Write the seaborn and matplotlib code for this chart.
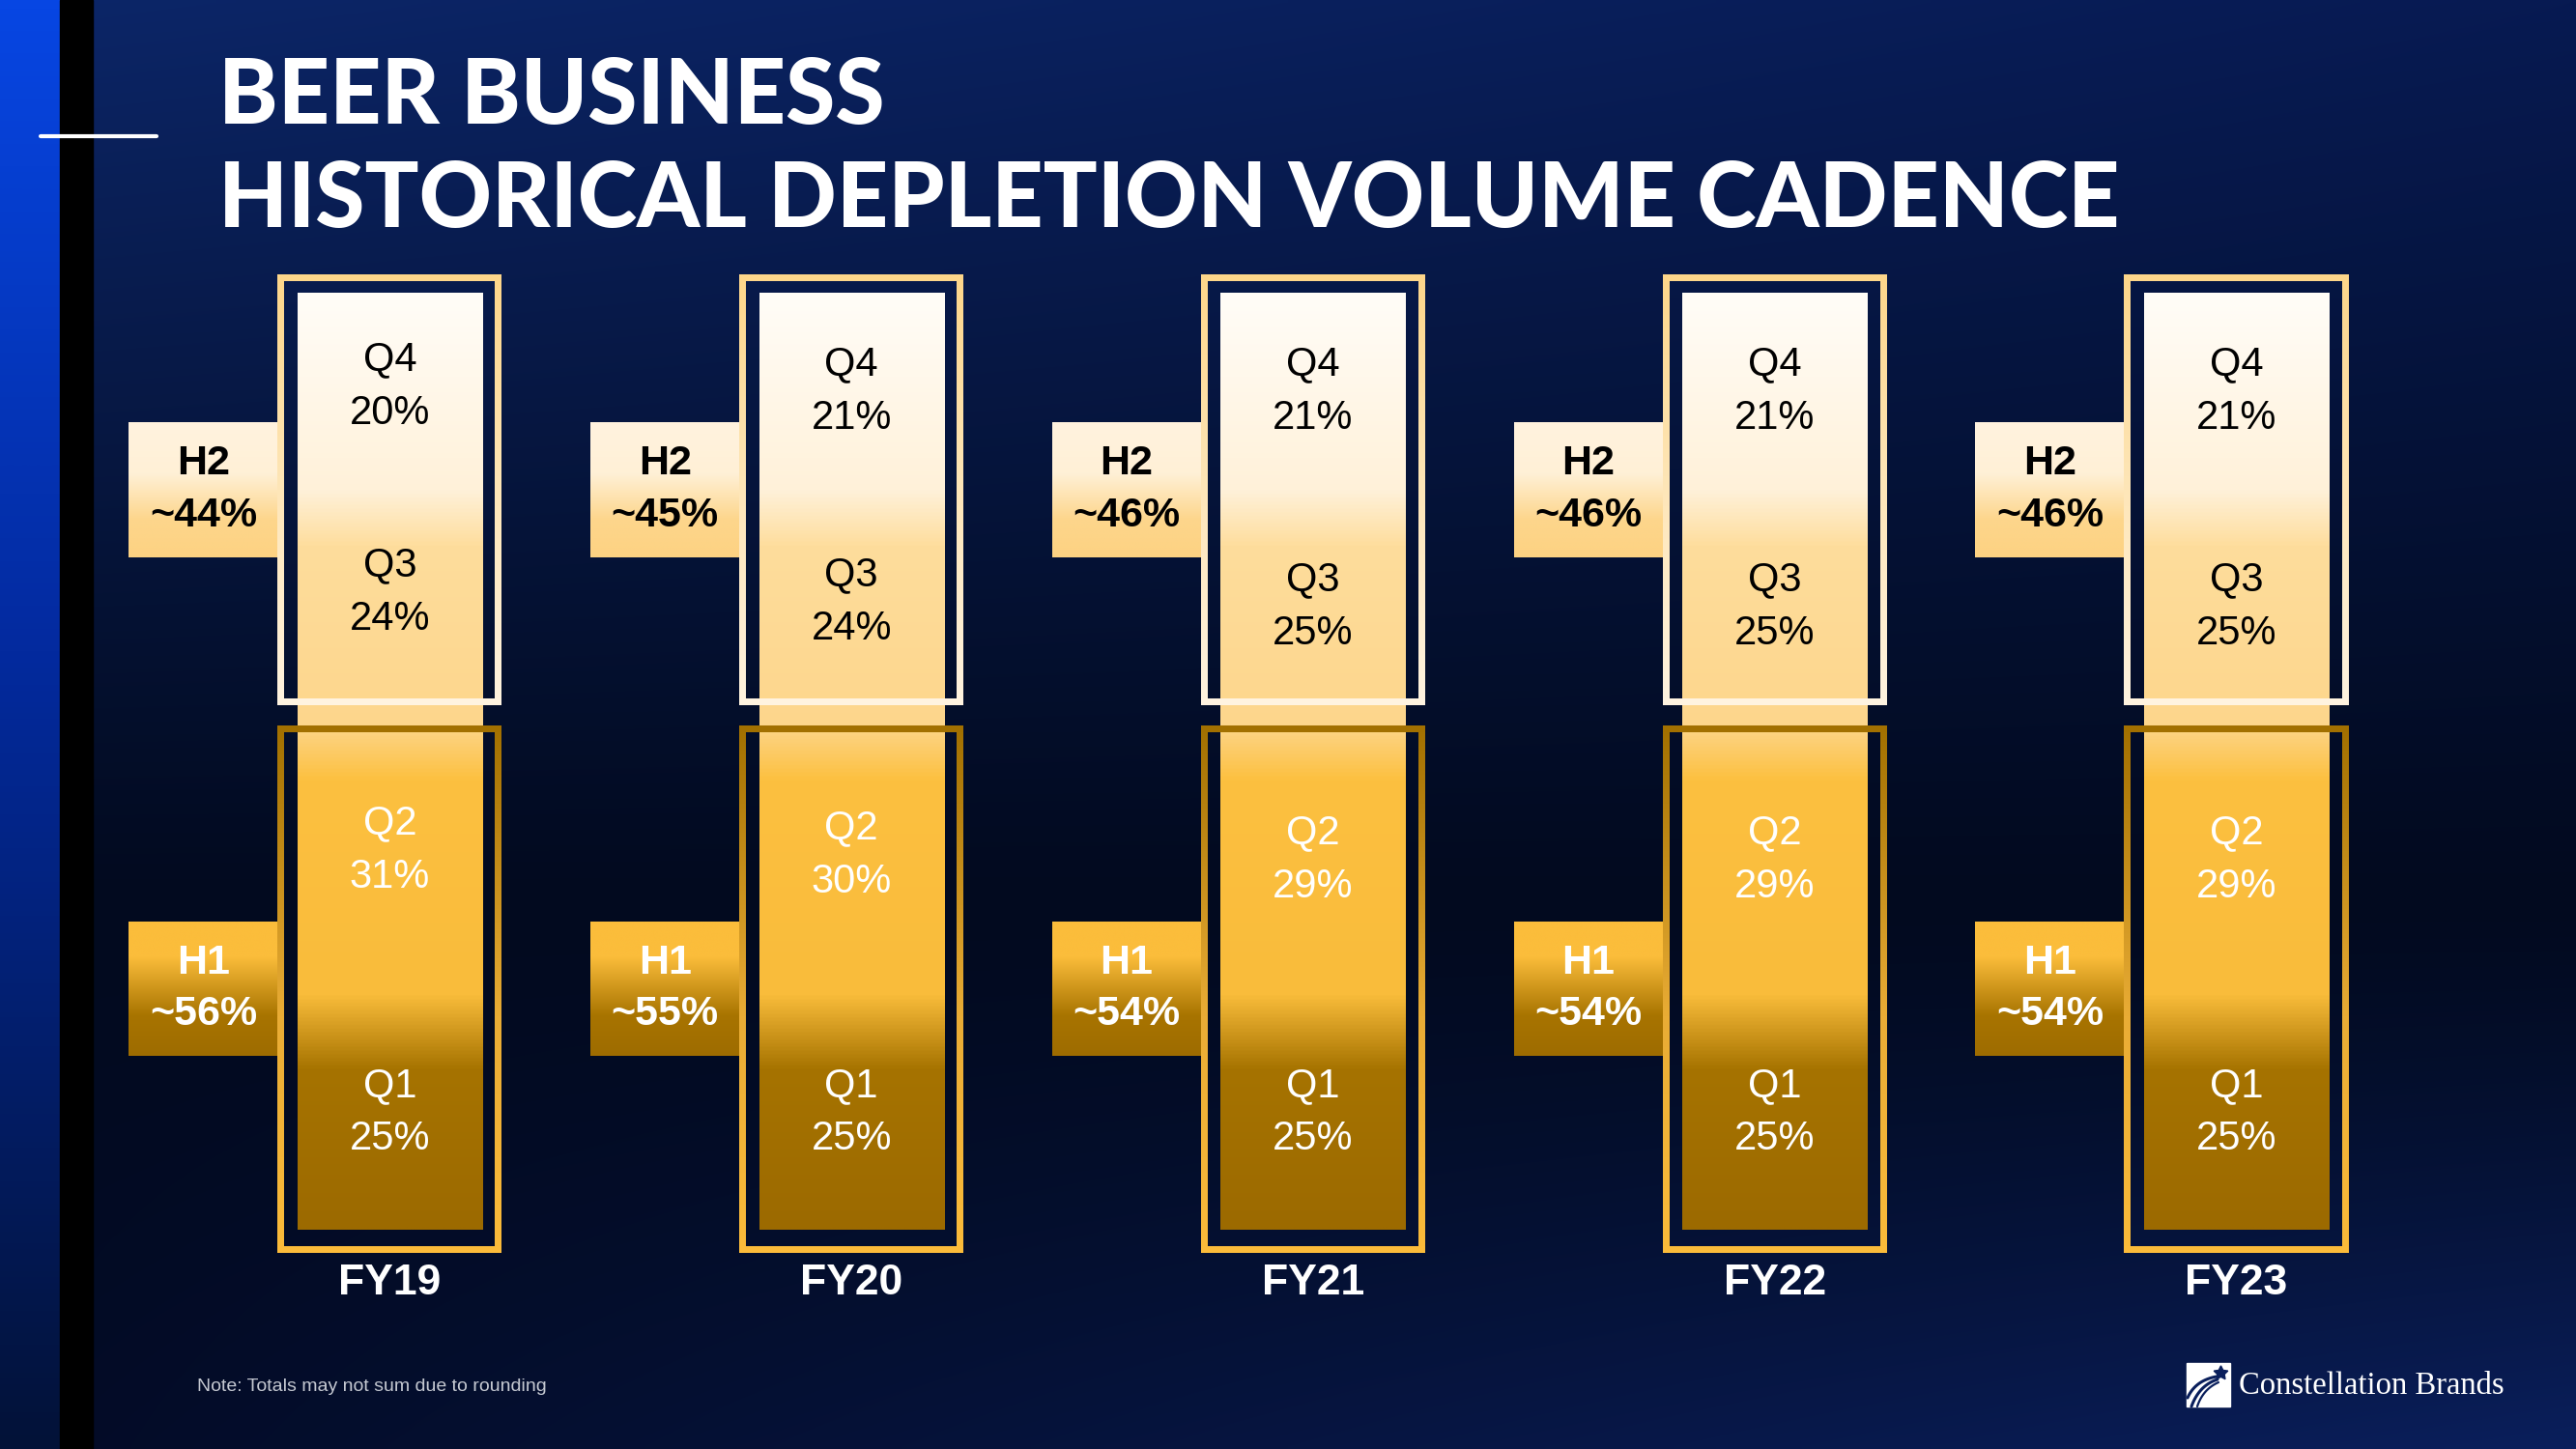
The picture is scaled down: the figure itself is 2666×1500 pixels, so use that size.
import numpy as np
import pandas as pd
import matplotlib
matplotlib.use("Agg")
import matplotlib.pyplot as plt
from matplotlib.colors import LinearSegmentedColormap, to_rgb
from matplotlib.patches import Rectangle
import seaborn as sns

# data
years = ["FY19", "FY20", "FY21", "FY22", "FY23"]
quarters = ["Q1", "Q2", "Q3", "Q4"]
q1 = [25, 25, 25, 25, 25]
q2 = [31, 30, 29, 29, 29]
q3 = [24, 24, 25, 25, 25]
q4 = [20, 21, 21, 21, 21]
h1_share = ["~56%", "~55%", "~54%", "~54%", "~54%"]
h2_share = ["~44%", "~45%", "~46%", "~46%", "~46%"]

sns.set_theme(style="white")
narrow = ["Liberation Sans Narrow", "Liberation Sans", "DejaVu Sans"]
plt.rcParams["font.family"] = narrow

W, H = 2666, 1500
fig = plt.figure(figsize=(W / 100, H / 100), dpi=100)

# ---- background (pixel coords) ----
bg = fig.add_axes([0, 0, 1, 1])
bg.set_xlim(0, W)
bg.set_ylim(H, 0)
bg.axis("off")
yy, xx = np.mgrid[0:1:300j, 0:1:534j]
top = np.array(to_rgb("#0c2668"))[None, None, :] * (1 - xx[..., None]) + np.array(to_rgb("#071a52"))[None, None, :] * xx[..., None]
mid = np.array(to_rgb("#020a1f"))[None, None, :]
bot = np.array(to_rgb("#030b26"))[None, None, :] * (1 - xx[..., None]) + np.array(to_rgb("#0a1f5c"))[None, None, :] * xx[..., None]
w_top = np.clip(1 - yy / 0.62, 0, 1)[..., None] ** 1.1
w_bot = np.clip((yy - 0.62) / 0.38, 0, 1)[..., None] ** 1.3
img = mid + w_top * (top - mid) + w_bot * (bot - mid)
bg.imshow(img, extent=[0, W, H, 0], aspect="auto", interpolation="bilinear", zorder=0)

strip_cmap = LinearSegmentedColormap.from_list(
    "strip", [(0, "#0746e3"), (0.45, "#032a9e"), (1, "#021238")])
bg.imshow(np.linspace(0, 1, 256).reshape(-1, 1), cmap=strip_cmap, extent=[0, 62, H, 0],
          aspect="auto", interpolation="bilinear", zorder=1)
bg.add_patch(Rectangle((62, 0), 34, H, color="black", zorder=1))
bg.plot([42, 162], [141, 141], color="white", lw=3, zorder=2)

# title
title_font = ["Lato", "DejaVu Sans"]
bg.text(226, 128, "BEER BUSINESS", fontsize=67, fontweight="black", family=title_font,
        color="white", va="baseline", ha="left", zorder=3)
bg.text(226, 235, "HISTORICAL DEPLETION VOLUME CADENCE", fontsize=67, fontweight="black",
        family=title_font, color="white", va="baseline", ha="left", zorder=3)

# footer
bg.text(204, 1440, "Note: Totals may not sum due to rounding", fontsize=14, color="#c5c9d2",
        va="baseline", ha="left", zorder=3)
bg.add_patch(Rectangle((2263, 1411), 45, 45, color="white", zorder=3))
navy = "#0a1f5c"
tt = np.linspace(0, 1, 40)
for p0, p1, p2, lw in [((2264, 1447), (2272, 1429), (2294, 1425), 2.2),
                       ((2268, 1456), (2276, 1434), (2295, 1428), 2.2),
                       ((2274, 1456), (2280, 1438), (2296, 1431), 1.6)]:
    bx = (1 - tt) ** 2 * p0[0] + 2 * (1 - tt) * tt * p1[0] + tt ** 2 * p2[0]
    by = (1 - tt) ** 2 * p0[1] + 2 * (1 - tt) * tt * p1[1] + tt ** 2 * p2[1]
    bg.plot(bx, by, color=navy, lw=lw, solid_capstyle="round", zorder=4)
bg.plot(2298, 1421, marker=(5, 1, 0), ms=11, color=navy, zorder=4)
bg.text(2317, 1443, "Constellation Brands", family=["Liberation Serif", "DejaVu Serif"],
        fontsize=23.5, color="white", va="baseline", ha="left", zorder=3)

# ---- bars (data coords) ----
px_per_cat = 477.75
px_per_pct = 9.7
x_lo, x_hi = -0.8, 4.6
y_lo, y_hi = -10, 105
left_px = 403.5 + x_lo * px_per_cat
right_px = 403.5 + x_hi * px_per_cat
bot_px = 1273 - y_lo * px_per_pct
top_px = 1273 - y_hi * px_per_pct
ax = fig.add_axes([left_px / W, 1 - bot_px / H, (right_px - left_px) / W, (bot_px - top_px) / H])
ax.set_zorder(2)
ax.patch.set_alpha(0)

df = pd.DataFrame({"year": years, "Q1": q1, "Q2": q2, "Q3": q3, "Q4": q4})
cum = df[quarters].cumsum(axis=1)
cum["year"] = df["year"]
bottoms = cum[quarters] - df[quarters]

seg_colors = {"Q4": "#fff3dc", "Q3": "#fedb95", "Q2": "#fcc03e", "Q1": "#a06e00"}
for q in reversed(quarters):
    sns.barplot(data=cum, x="year", y=q, order=years, color=seg_colors[q], width=0.4,
                saturation=1, errorbar=None, linewidth=0, edgecolor="none", ax=ax, zorder=1)
top_bars = ax.patches[:len(years)]

bar_cmap = LinearSegmentedColormap.from_list("bar", [
    (0, "#9c6a00"), (0.17, "#a67300"), (0.25, "#f9bc3b"), (0.48, "#fcc040"),
    (0.54, "#fdd68c"), (0.73, "#fedd9c"), (0.79, "#fff1d9"), (1, "#fffdf8")])
grad = np.linspace(0, 1, 512).reshape(-1, 1)
for p in top_bars:
    x0, w, h = p.get_x(), p.get_width(), p.get_height()
    im = ax.imshow(grad, cmap=bar_cmap, vmin=0, vmax=1, extent=[x0, x0 + w, 0, h],
                   origin="lower", aspect="auto", interpolation="bilinear", zorder=2)
    im.set_clip_path(p)

# frames around halves
frame_outer = 116 / px_per_cat
thick_x = 7 / px_per_cat
thick_y = 7 / px_per_pct
h2_frame = LinearSegmentedColormap.from_list("h2f", ["#fdd68a", "#fee6b8", "#fff3e0"])
h1_frame = LinearSegmentedColormap.from_list("h1f", [(0, "#a27000"), (0.55, "#e9ac35"), (1, "#fbbb3a")])


def draw_frame(xc, y_top, y_bot, cmap):
    # sides carry the vertical gradient, top and bottom are flat
    for xs in (xc - frame_outer, xc + frame_outer - thick_x):
        ax.imshow(grad, cmap=cmap, vmin=0, vmax=1, extent=[xs, xs + thick_x, y_bot, y_top],
                  origin="upper", aspect="auto", interpolation="bilinear", zorder=3)
    ax.add_patch(Rectangle((xc - frame_outer, y_top - thick_y), 2 * frame_outer, thick_y,
                           color=cmap(0.0), lw=0, zorder=3))
    ax.add_patch(Rectangle((xc - frame_outer, y_bot), 2 * frame_outer, thick_y,
                           color=cmap(1.0), lw=0, zorder=3))


h2_box_cmap = LinearSegmentedColormap.from_list("h2b", [(0, "#fff3df"), (0.38, "#fff0d6"), (0.72, "#fdd68c"), (1, "#fdd282")])
h1_box_cmap = LinearSegmentedColormap.from_list("h1b", [(0, "#fbbd3b"), (0.26, "#fbbd3b"), (0.7, "#a87400"), (1, "#9e6c00")])
box_w = 154 / px_per_cat
h2_box = ((1273 - 577) / px_per_pct, (1273 - 437) / px_per_pct)
h1_box = ((1273 - 1093) / px_per_pct, (1273 - 954) / px_per_pct)

for i, yr in enumerate(years):
    draw_frame(i, (1273 - 284) / px_per_pct, (1273 - 730) / px_per_pct, h2_frame)
    draw_frame(i, (1273 - 751) / px_per_pct, (1273 - 1297) / px_per_pct, h1_frame)

    xr = i - frame_outer
    for (yb, yt), cmap, lab, half, tcol in [(h2_box, h2_box_cmap, h2_share[i], "H2", "black"),
                                            (h1_box, h1_box_cmap, h1_share[i], "H1", "white")]:
        ax.imshow(grad, cmap=cmap, vmin=0, vmax=1, extent=[xr - box_w, xr, yb, yt],
                  origin="upper", aspect="auto", interpolation="bilinear", zorder=2)
        ax.text(xr - box_w / 2, (yb + yt) / 2, f"{half}\n{lab}", ha="center", va="center",
                color=tcol, fontsize=31, fontweight="bold", linespacing=1.45, zorder=5)

    for q in quarters:
        val = df.loc[i, q]
        yc = bottoms.loc[i, q] + val / 2
        col = "black" if q in ("Q3", "Q4") else "white"
        ax.text(i, yc, f"{q}\n{val}%", ha="center", va="center", color=col, fontsize=30,
                linespacing=1.5, zorder=5)

    ax.text(i, (1273 - 1340) / px_per_pct, yr, ha="center", va="baseline", color="white",
            fontsize=32, fontweight="bold", zorder=5)

ax.set_xlim(x_lo, x_hi)
ax.set_ylim(y_lo, y_hi)
ax.axis("off")

fig.savefig("out.png", dpi=100)
